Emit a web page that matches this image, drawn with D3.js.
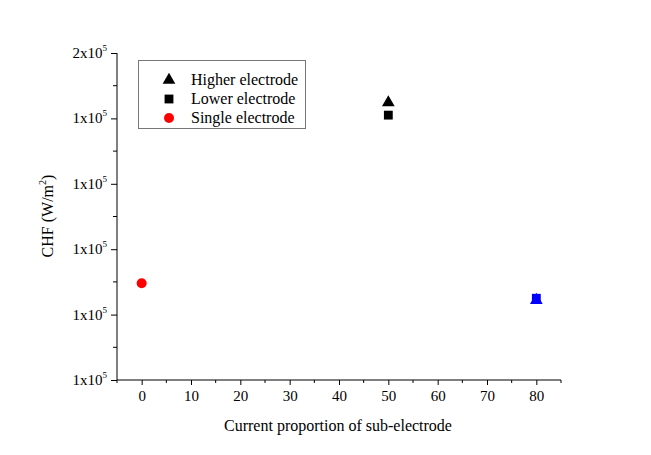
<!DOCTYPE html>
<html><head><meta charset="utf-8">
<script src="https://cdn.jsdelivr.net/npm/d3@7"></script>
<style>body{margin:0;background:#fff}svg text{font-family:"Liberation Serif","DejaVu Serif",serif !important;fill:#000}</style>
</head><body><svg id="c" width="651" height="455" font-family="Liberation Serif"></svg>
<script>
const xTicks = [0,10,20,30,40,50,60,70,80];
const yTicks = [100000,110000,120000,130000,140000,150000];
const higherX = [50, 80];
const higherY = [142400, 112200];
const lowerX = [50, 80];
const lowerY = [140500, 112500];
const singleX = [0];
const singleY = [114800];
const markColors = ["#000000", "#0000ff"];
const legendLabels = ["Higher electrode","Lower electrode","Single electrode"];

const svg = d3.select("#c");
const x = d3.scaleLinear().domain([-5,85]).range([117,561]);
const y = d3.scaleLinear().domain([100000,150000]).range([380,53]);

const xAxis = d3.axisBottom(x).tickValues(xTicks).tickSize(5).tickPadding(5).tickFormat(d3.format("d"));
const gx = svg.append("g").attr("transform","translate(0,380)").call(xAxis);
gx.attr("font-family",null);
gx.select(".domain").attr("d","M117,0H561").attr("stroke","#000");
gx.selectAll("text").style("font-size","15px").style("font-family","Liberation Serif");
svg.append("g").selectAll("line").data(d3.range(-5,86,10)).join("line")
  .attr("x1",d=>x(d)).attr("x2",d=>x(d)).attr("y1",380).attr("y2",383).attr("stroke","#000");

const yAxis = d3.axisLeft(y).tickValues(yTicks).tickSize(6).tickPadding(4).tickFormat(()=>"");
const gy = svg.append("g").attr("transform","translate(117,0)").call(yAxis);
gy.select(".domain").attr("d","M0,380V53").attr("stroke","#000");
svg.append("g").selectAll("line").data(d3.range(105000,150000,10000)).join("line")
  .attr("x1",113).attr("x2",117).attr("y1",d=>y(d)).attr("y2",d=>y(d)).attr("stroke","#000");
const yl = svg.append("g").selectAll("text").data(yTicks).join("text")
  .attr("x",107).attr("y",d=>y(d)+5).attr("text-anchor","end").style("font-size","15px");
yl.append("tspan").text(d=>Math.round(d/100000)+"x10");
yl.append("tspan").attr("dy",-7).style("font-size","9px").text("5");

svg.append("text").attr("x",338).attr("y",431).attr("text-anchor","middle").style("font-size","16px")
  .text("Current proportion of sub-electrode");
const yt = svg.append("text").attr("transform","translate(53,216) rotate(-90)").attr("text-anchor","middle").style("font-size","16px");
yt.append("tspan").text("CHF (W/m");
yt.append("tspan").attr("dy",-7).style("font-size","10px").text("2");
yt.append("tspan").attr("dy",7).text(")");

const tri = d3.symbol().type(d3.symbolTriangle).size(70);
const sq = d3.symbol().type(d3.symbolSquare).size(78);
svg.append("g").selectAll("path").data(higherX.map((v,i)=>[v,higherY[i],markColors[i]])).join("path")
  .attr("d",tri).attr("transform",d=>`translate(${x(d[0])},${y(d[1])})`).attr("fill",d=>d[2]);
svg.append("g").selectAll("path").data(lowerX.map((v,i)=>[v,lowerY[i],markColors[i]])).join("path")
  .attr("d",sq).attr("transform",d=>`translate(${x(d[0])},${y(d[1])})`).attr("fill",d=>d[2]);
svg.append("g").selectAll("circle").data(singleX.map((v,i)=>[v,singleY[i]])).join("circle")
  .attr("cx",d=>x(d[0])).attr("cy",d=>y(d[1])).attr("r",5).attr("fill","#ff0000");

const lg = svg.append("g");
lg.append("rect").attr("x",138.5).attr("y",60.5).attr("width",167).attr("height",68).attr("fill","#fff").attr("stroke","#777");
const rows = [80,99,118];
lg.append("path").attr("d",tri).attr("transform",`translate(169,${rows[0]})`).attr("fill","#000");
lg.append("path").attr("d",sq).attr("transform",`translate(169,${rows[1]})`).attr("fill","#000");
lg.append("circle").attr("cx",169).attr("cy",rows[2]).attr("r",5).attr("fill","#ff0000");
lg.selectAll("text").data(legendLabels).join("text").attr("x",191).attr("y",(d,i)=>rows[i]+5)
  .style("font-size","16px").text(d=>d);
</script></body></html>
